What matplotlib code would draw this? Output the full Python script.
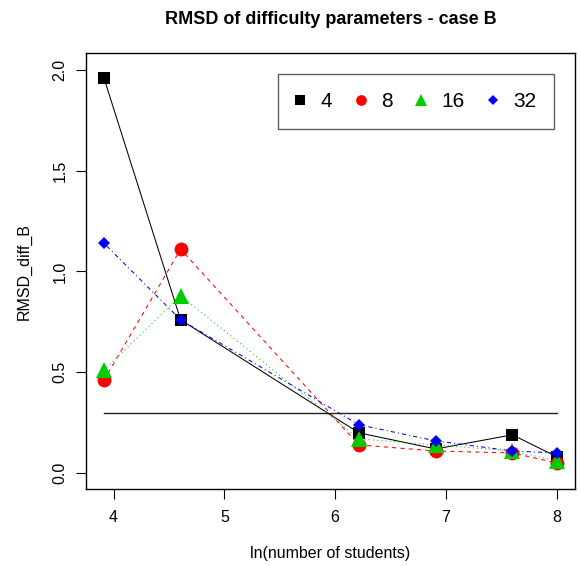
import numpy as np
import matplotlib
matplotlib.use("Agg")
import matplotlib.pyplot as plt
from matplotlib.lines import Line2D

plt.rcParams['font.family'] = ['Liberation Sans', 'DejaVu Sans']

# number of students per condition (x axis is ln of this)
n_students = [50, 100, 500, 1000, 2000, 3000]
groups = ["4", "8", "16", "32"]
rmsd_4 = [1.96, 0.76, 0.20, 0.12, 0.19, 0.08]
rmsd_8 = [0.46, 1.11, 0.14, 0.11, 0.10, 0.05]
rmsd_16 = [0.51, 0.88, 0.17, 0.14, 0.11, 0.06]
rmsd_32 = [1.14, 0.76, 0.24, 0.16, 0.11, 0.10]
threshold = 0.3
xticks = [4, 5, 6, 7, 8]
yticks = [0.0, 0.5, 1.0, 1.5, 2.0]

x = np.log(n_students)

fig = plt.figure(figsize=(5.81, 5.66), dpi=100)
ax = fig.add_axes([0.1475, 0.1355, 0.843, 0.770])

series = [rmsd_4, rmsd_8, rmsd_16, rmsd_32]
colors = ["black", "#FF0000", "#00CD00", "#0000FF"]
markers = ["s", "o", "^", "D"]
msizes = [9.1, 10, 11, 6.5]
leg_sizes = [7, 7.7, 8.4, 5.4]
styles = ["-", (0, (4, 4)), (0, (1, 3)), (0, (1, 3, 4, 3))]

for vals, c, ls in zip(series, colors, styles):
    ax.plot(x, vals, color=c, linestyle=ls, linewidth=0.75)
for vals, c, m, ms in zip(series, colors, markers, msizes):
    ax.plot(x, vals, color=c, linestyle="none", marker=m, markersize=ms,
            markeredgewidth=0)

# reference line
ax.plot([x[0], x[-1]], [threshold, threshold], color="#222222", linewidth=1.0)

xr = x[-1] - x[0]
ax.set_xlim(x[0] - 0.04 * xr, x[-1] + 0.04 * xr)
ax.set_ylim(-0.08, 2.08)
ax.set_xticks(xticks)
ax.set_xticklabels([str(t) for t in xticks])
ax.set_yticks(yticks)
ax.set_yticklabels(["%.1f" % t for t in yticks], rotation=90, va="center")
ax.tick_params(direction="out", length=7.2, width=0.8, labelsize=11.5, pad=6)
ax.tick_params(axis="x", pad=7.5)

for s in ax.spines.values():
    s.set_linewidth(1.0)

ax.set_xlabel("ln(number of students)", fontsize=11.5, labelpad=15)
ax.set_ylabel("RMSD_diff_B", fontsize=11.5, labelpad=15)
ax.set_title("RMSD of difficulty parameters - case B", fontsize=13,
             fontweight="bold", pad=21)

handles = [Line2D([], [], color=c, marker=m, linestyle="none",
                  markersize=ms, markeredgewidth=0)
           for c, m, ms in zip(colors, markers, leg_sizes)]
leg = ax.legend(handles, groups, ncol=4, loc="upper left",
                bbox_to_anchor=(0.392, 0.952), borderaxespad=0,
                fontsize=15, frameon=True, fancybox=False,
                handlelength=0.48, handletextpad=0.74, columnspacing=1.12,
                borderpad=0.85)
leg.get_frame().set_edgecolor("#333333")
leg.get_frame().set_linewidth(1.0)

fig.savefig("out.png", dpi=100)
